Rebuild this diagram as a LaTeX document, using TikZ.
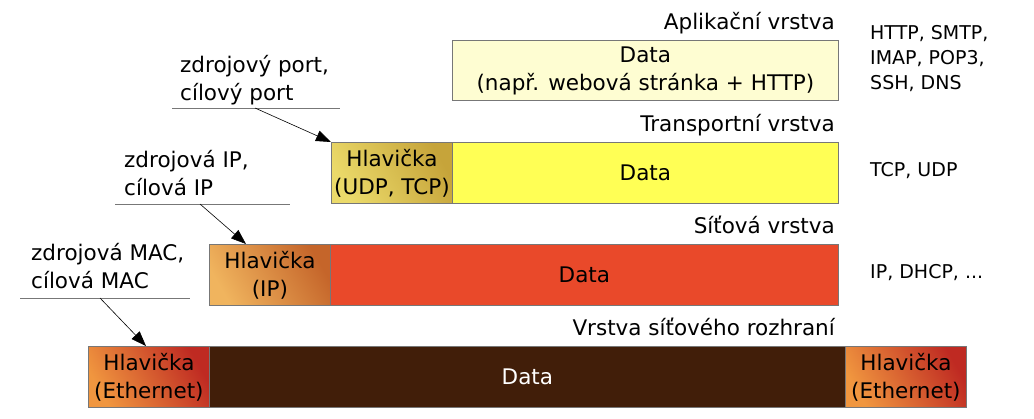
\documentclass[tikz,border=0pt]{standalone}
\usepackage{fontspec}
\setmainfont{DejaVu Sans}
\usetikzlibrary{arrows.meta}
\definecolor{appfill}{HTML}{FEFDD2}
\definecolor{tdata}{HTML}{FFFF55}
\definecolor{ndata}{HTML}{E9492A}
\definecolor{ldata}{HTML}{411E09}
\definecolor{thA}{HTML}{EBDA6A}
\definecolor{thB}{HTML}{C6A43A}
\definecolor{nhA}{HTML}{F0B45E}
\definecolor{nhB}{HTML}{C5652A}
\definecolor{lhA}{HTML}{F0963F}
\definecolor{lhB}{HTML}{BF2A22}
\definecolor{edge}{HTML}{777777}
\tikzset{
  x=1pt, y=-1pt,
  big/.style={font=\fontsize{21.5}{28}\selectfont},
  small/.style={font=\fontsize{19}{25}\selectfont},
  box/.style={big, draw=edge, line width=0.8pt, anchor=north west, inner sep=0pt, align=center,
              minimum height=61pt},
  hdr/.style={box, minimum width=121pt},
  layer/.style={big, inner sep=0pt, anchor=base east},
  proto/.style={small, inner sep=0pt, anchor=west, align=left},
  note/.style={big, inner sep=0pt, anchor=north west, align=left},
  uline/.style={draw=edge, line width=0.8pt},
  annarrow/.style={draw=black, line width=0.6pt, -{Triangle[length=15pt,width=11pt]}}
}
\begin{document}
\begin{tikzpicture}
\useasboundingbox (0,0) rectangle (1034,418);
% application
\node[layer] (l1) at (835,29) {Aplikační vrstva};
\node[box, fill=appfill, minimum width=386pt, minimum height=60pt] (ad) at (452,40) {Data\\(např. webová stránka + HTTP)};
\node[proto, anchor=north west] (p1) at (870,25) {HTTP, SMTP,\\IMAP, POP3,\\SSH, DNS};
% transport
\node[layer] (l2) at (835,131) {Transportní vrstva};
\node[hdr, left color=thA, right color=thB, shading angle=120] (th) at (331,142) {Hlavička\\(UDP, TCP)};
\node[box, fill=tdata, minimum width=386pt] (td) at (452,142) {Data};
\node[proto] (p2) at (870,171) {TCP, UDP};
% network
\node[layer] (l3) at (835,233) {Síťová vrstva};
\node[hdr, left color=nhA, right color=nhB, shading angle=120] (nh) at (209,244) {Hlavička\\(IP)};
\node[box, fill=ndata, minimum width=508pt] (nd) at (330,244) {Data};
\node[proto] (p3) at (870,273) {IP, DHCP, ...};
% link
\node[layer] (l4) at (835,335) {Vrstva síťového rozhraní};
\node[hdr, left color=lhA, right color=lhB, shading angle=120] (lh) at (88,346) {Hlavička\\(Ethernet)};
\node[box, fill=ldata, minimum width=636pt, text=white] (ld) at (209,346) {Data};
\node[hdr, left color=lhA, right color=lhB, shading angle=120] (lt) at (845,346) {Hlavička\\(Ethernet)};
% annotations
\node[note] (n1) at (180,55) {zdrojový port,\\cílový port};
\coordinate (u1a) at (172,108); \coordinate (u1b) at (340,108); \coordinate (a1) at (255,108);
\draw[uline] (u1a) -- (u1b);
\draw[annarrow] (a1) -- (th.north west);
\node[note] (n2) at (124,150) {zdrojová IP,\\cílová IP};
\coordinate (u2a) at (115,204); \coordinate (u2b) at (290,204); \coordinate (a2) at (200,204);
\draw[uline] (u2a) -- (u2b);
\coordinate (t2) at (246,244);
\draw[annarrow] (a2) -- (t2);
\node[note] (n3) at (31,243) {zdrojová MAC,\\cílová MAC};
\coordinate (u3a) at (20,298); \coordinate (u3b) at (190,298); \coordinate (a3) at (100,298);
\draw[uline] (u3a) -- (u3b);
\coordinate (t3) at (146,346);
\draw[annarrow] (a3) -- (t3);
\end{tikzpicture}
\end{document}
